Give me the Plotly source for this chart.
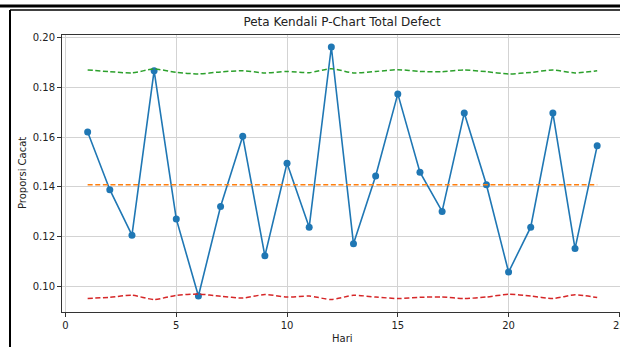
import plotly.graph_objects as go

days = list(range(1, 25))
proporsi = [0.1620, 0.1389, 0.1207, 0.1866, 0.1272, 0.0963, 0.1322, 0.1603,
            0.1124, 0.1495, 0.1239, 0.1961, 0.1172, 0.1444, 0.1773, 0.1459,
            0.1302, 0.1696, 0.1409, 0.1059, 0.1239, 0.1696, 0.1153, 0.1565]
ucl = [0.1869, 0.1862, 0.1857, 0.1873, 0.1859, 0.1853, 0.1861, 0.1866,
       0.1857, 0.1863, 0.1858, 0.1874, 0.1857, 0.1863, 0.1870, 0.1863,
       0.1862, 0.1869, 0.1862, 0.1853, 0.1859, 0.1869, 0.1857, 0.1866]
cl = [0.1409] * 24
lcl = [0.0953, 0.0958, 0.0966, 0.0949, 0.0966, 0.0971, 0.0962, 0.0955,
       0.0969, 0.0959, 0.0963, 0.0949, 0.0966, 0.0959, 0.0953, 0.0958,
       0.0959, 0.0953, 0.0959, 0.0970, 0.0963, 0.0953, 0.0968, 0.0957]
x_ticks = [0, 5, 10, 15, 20, 25]
y_ticks = [0.10, 0.12, 0.14, 0.16, 0.18, 0.20]

W, H = 620, 347
L, R, T, B = 62, 0, 35, 35
PW, PH = W - L - R, H - T - B

def px_x(p):
    return (p - L) / PW

def px_y(p):
    return (H - B - p) / PH

FONT = "DejaVu Sans"
TXT = "#222222"
fig = go.Figure()
fig.add_trace(go.Scatter(x=days, y=proporsi, mode="lines+markers",
                         line=dict(color="#1f77b4", width=1.6),
                         marker=dict(color="#1f77b4", size=7), name="p"))
fig.add_trace(go.Scatter(x=days, y=ucl, mode="lines",
                         line=dict(color="#2ca02c", width=1.5, dash="5px,2.6px", shape="spline", smoothing=0.6), name="UCL"))
fig.add_trace(go.Scatter(x=days, y=cl, mode="lines",
                         line=dict(color="#ff7f0e", width=1.5, dash="5px,2.6px"), name="CL"))
fig.add_trace(go.Scatter(x=days, y=lcl, mode="lines",
                         line=dict(color="#d62728", width=1.5, dash="5px,2.6px", shape="spline", smoothing=0.6), name="LCL"))

axis_common = dict(showgrid=True, gridcolor="#d3d3d3", gridwidth=1,
                   showline=True, linecolor="#333333", linewidth=1,
                   ticks="outside", ticklen=4, tickcolor="#333333", tickwidth=1,
                   tickfont=dict(family=FONT, size=10, color=TXT),
                   zeroline=False)
# the last x tick label sits on the page edge; it is drawn as an annotation below
fig.update_xaxes(range=[-0.158, 25.03], tickvals=x_ticks,
                 ticktext=[str(v) if v != x_ticks[-1] else "" for v in x_ticks],
                 mirror=True, **axis_common)
fig.update_yaxes(range=[0.0899, 0.2009], tickvals=y_ticks,
                 ticktext=[f"{v:.2f}" for v in y_ticks], **axis_common)

fig.update_layout(
    width=W, height=H, margin=dict(l=L, r=R, t=T, b=B),
    paper_bgcolor="white", plot_bgcolor="white", showlegend=False,
    title=dict(text="Peta Kendali P-Chart Total Defect", xref="container", yref="container",
               x=342 / W, y=1 - 22 / H, xanchor="center", yanchor="middle",
               font=dict(family=FONT, size=12, color=TXT)),
)
fig.add_annotation(text=str(x_ticks[-1]), xref="x", yref="paper", x=x_ticks[-1], y=px_y(325),
                   xanchor="center", yanchor="middle", showarrow=False,
                   font=dict(family=FONT, size=10, color=TXT))
fig.add_annotation(text="Hari", xref="paper", yref="paper", x=px_x(342), y=px_y(338),
                   xanchor="center", yanchor="middle", showarrow=False,
                   font=dict(family=FONT, size=10, color=TXT))
fig.add_annotation(text="Proporsi Cacat", xref="paper", yref="paper", x=px_x(22), y=px_y(173),
                   xanchor="center", yanchor="middle", showarrow=False, textangle=-90,
                   font=dict(family=FONT, size=10, color=TXT))

# document frame lines visible around the figure
fig.add_shape(type="line", xref="paper", yref="paper", x0=px_x(0), x1=px_x(620),
              y0=px_y(6), y1=px_y(6), line=dict(color="black", width=3))
fig.add_shape(type="line", xref="paper", yref="paper", x0=px_x(10), x1=px_x(620),
              y0=px_y(10), y1=px_y(10), line=dict(color="black", width=1.5))
fig.add_shape(type="line", xref="paper", yref="paper", x0=px_x(10), x1=px_x(10),
              y0=px_y(10), y1=px_y(347), line=dict(color="black", width=2))

fig.write_html("out.html", config={"displayModeBar": False},
               post_script="document.body.style.margin='0';document.body.style.overflow='hidden';document.documentElement.style.overflow='hidden';")
